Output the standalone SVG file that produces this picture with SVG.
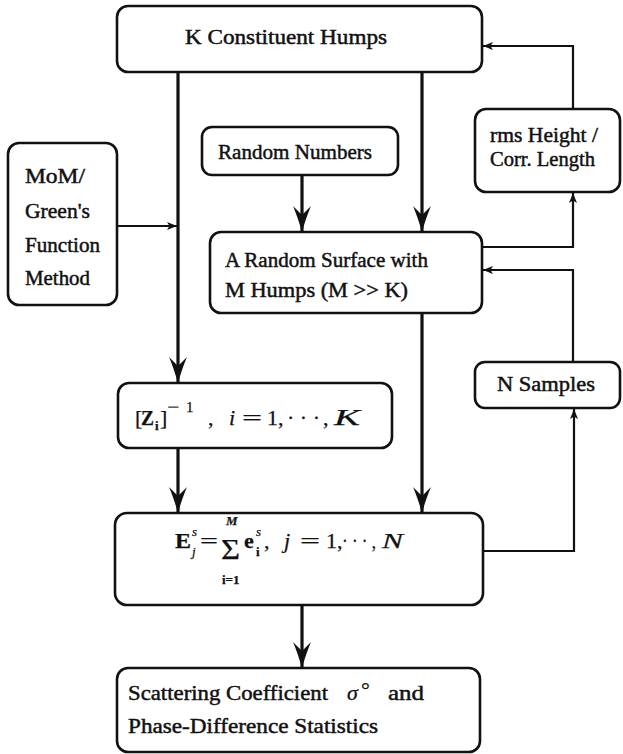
<svg xmlns="http://www.w3.org/2000/svg" width="623" height="754" viewBox="0 0 623 754">
  <style>
    .box { fill: #fff; stroke: #111; stroke-width: 2.6; }
    .t { font-family: "Liberation Serif", "DejaVu Serif", serif; font-size: 20px; fill: #111; stroke: #111; stroke-width: 0.45; }
    .m { font-family: "Liberation Serif", "DejaVu Serif", serif; font-size: 22px; fill: #111; stroke: #111; stroke-width: 0.25; }
    .mb { font-weight: bold; }
    .mi { font-style: italic; }
    .sm { font-size: 13px; }
    .thick { fill: none; stroke: #111; stroke-width: 3.2; }
    .thin { fill: none; stroke: #111; stroke-width: 2.2; }
  </style>
  <defs>
    <marker id="big" markerUnits="userSpaceOnUse" viewBox="0 0 26 20" markerWidth="26" markerHeight="20" refX="25" refY="10" orient="auto">
      <path d="M26,10 C17,7.5 7,4 0,1 L9,10 L0,19 C7,16 17,12.5 26,10 Z" fill="#111"/>
    </marker>
    <marker id="small" markerUnits="userSpaceOnUse" viewBox="0 0 10 8" markerWidth="10" markerHeight="8" refX="10" refY="4" orient="auto">
      <path d="M10,4 L0,0 L2.5,4 L0,8 Z" fill="#111"/>
    </marker>
  </defs>
  <rect width="623" height="754" fill="#fff"/>

  <!-- connectors -->
  <g id="connectors">
    <path class="thick" d="M178,72 V382" marker-end="url(#big)"/>
    <path class="thick" d="M422,72 V231" marker-end="url(#big)"/>
    <path class="thick" d="M302,175 V231" marker-end="url(#big)"/>
    <path class="thin" d="M117,226 H177" marker-end="url(#small)"/>
    <path class="thin" d="M573,108 V46 H483" marker-end="url(#small)"/>
    <path class="thin" d="M482,247 H573 V193" marker-end="url(#small)"/>
    <path class="thin" d="M573,362 V270 H483" marker-end="url(#small)"/>
    <path class="thick" d="M422,313 V512" marker-end="url(#big)"/>
    <path class="thick" d="M178,448 V512" marker-end="url(#big)"/>
    <path class="thin" d="M483,551 H574 V409" marker-end="url(#small)"/>
    <path class="thick" d="M302,605 V667" marker-end="url(#big)"/>
  </g>

  <g id="constituent-humps">
    <rect class="box" x="117" y="6" width="365" height="66" rx="11"/>
    <text class="t" x="185" y="44" textLength="202" lengthAdjust="spacingAndGlyphs">K  Constituent Humps</text>
  </g>

  <g id="mom-green">
    <rect class="box" x="8" y="143" width="109" height="162" rx="11"/>
    <text class="t" x="25" y="183" textLength="60" lengthAdjust="spacingAndGlyphs">MoM/</text>
    <text class="t" x="25" y="218" textLength="65" lengthAdjust="spacingAndGlyphs">Green's</text>
    <text class="t" x="25" y="252" textLength="75" lengthAdjust="spacingAndGlyphs">Function</text>
    <text class="t" x="25" y="285" textLength="65" lengthAdjust="spacingAndGlyphs">Method</text>
  </g>

  <g id="random-numbers">
    <rect class="box" x="202" y="127" width="196" height="48" rx="10"/>
    <text class="t" x="218" y="159" textLength="154" lengthAdjust="spacingAndGlyphs">Random Numbers</text>
  </g>

  <g id="random-surface">
    <rect class="box" x="210" y="232" width="272" height="81" rx="11"/>
    <text class="t" x="225" y="267" textLength="203" lengthAdjust="spacingAndGlyphs">A Random Surface with</text>
    <text class="t" x="225" y="297" textLength="183" lengthAdjust="spacingAndGlyphs">M  Humps  (M &gt;&gt; K)</text>
  </g>

  <g id="rms-height">
    <rect class="box" x="475" y="109" width="145" height="83" rx="11"/>
    <text class="t" x="490" y="142" textLength="108" lengthAdjust="spacingAndGlyphs">rms Height /</text>
    <text class="t" x="490" y="166" textLength="105" lengthAdjust="spacingAndGlyphs">Corr. Length</text>
  </g>

  <g id="n-samples">
    <rect class="box" x="475" y="362" width="145" height="46" rx="10"/>
    <text class="t" x="497" y="391" textLength="98" lengthAdjust="spacingAndGlyphs">N  Samples</text>
  </g>

  <g id="impedance-inverse">
    <rect class="box" x="118" y="383" width="274" height="65" rx="11"/>
    <text class="m" x="135" y="425">[</text>
    <text class="m mb" x="141" y="425" textLength="13" lengthAdjust="spacingAndGlyphs">Z</text>
    <text class="m mb sm" x="155" y="430">i</text>
    <text class="m" x="160" y="425">]</text>
    <text class="m sm" x="167" y="412" style="font-size:15px" textLength="12" lengthAdjust="spacingAndGlyphs">−</text>
    <text class="m sm" x="186" y="412" style="font-size:15px">1</text>
    <text class="m" x="208" y="425">,</text>
    <text class="m mi" x="229" y="425">i</text>
    <text class="m" x="242" y="425" textLength="20" lengthAdjust="spacingAndGlyphs">=</text>
    <text class="m" x="267" y="425">1,</text>
    <text class="m" x="287" y="425">· · ·</text>
    <text class="m" x="323" y="425">,</text>
    <text class="m mi" x="334" y="425" style="font-size:24px" textLength="26" lengthAdjust="spacingAndGlyphs">K</text>
  </g>

  <g id="scattered-field">
    <rect class="box" x="115" y="513" width="368" height="92" rx="12"/>
    <text class="m mb" x="175" y="548" textLength="16" lengthAdjust="spacingAndGlyphs">E</text>
    <text class="m mi sm" x="192" y="536">s</text>
    <text class="m mi sm" x="192" y="556">j</text>
    <text class="m" x="200" y="548" textLength="18" lengthAdjust="spacingAndGlyphs">=</text>
    <text class="m" x="221" y="559" style="font-size:30px" textLength="19" lengthAdjust="spacingAndGlyphs">Σ</text>
    <text class="m mi sm mb" x="226" y="525">M</text>
    <text class="m mb sm" x="222" y="584">i=1</text>
    <text class="m mb" x="244" y="548">e</text>
    <text class="m mi sm" x="256" y="536">s</text>
    <text class="m mb sm" x="256" y="556">i</text>
    <text class="m" x="264" y="548">,</text>
    <text class="m mi" x="284" y="548">j</text>
    <text class="m" x="300" y="548" textLength="20" lengthAdjust="spacingAndGlyphs">=</text>
    <text class="m" x="326" y="548">1,</text>
    <text class="m" x="342" y="548" textLength="34" lengthAdjust="spacingAndGlyphs">· · · ,</text>
    <text class="m mi" x="382" y="548" textLength="21" lengthAdjust="spacingAndGlyphs">N</text>
  </g>

  <g id="statistics">
    <rect class="box" x="117" y="668" width="363" height="84" rx="11"/>
    <text class="t" x="128" y="700" textLength="200" lengthAdjust="spacingAndGlyphs">Scattering Coefficient</text>
    <text class="m mi" x="347" y="700">σ</text>
    <text class="m" x="361" y="697">°</text>
    <text class="t" x="388" y="700" textLength="36" lengthAdjust="spacingAndGlyphs">and</text>
    <text class="t" x="128" y="733" textLength="250" lengthAdjust="spacingAndGlyphs">Phase-Difference Statistics</text>
  </g>
</svg>
